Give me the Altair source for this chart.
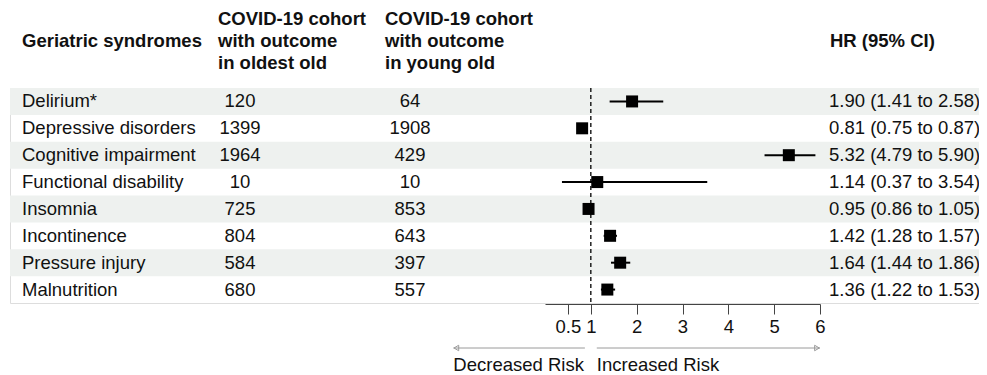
import altair as alt
import pandas as pd

syndromes = ["Delirium*", "Depressive disorders", "Cognitive impairment",
             "Functional disability", "Insomnia", "Incontinence",
             "Pressure injury", "Malnutrition"]
oldest_old = [120, 1399, 1964, 10, 725, 804, 584, 680]
young_old = [64, 1908, 429, 10, 853, 643, 397, 557]
hr = [1.90, 0.81, 5.32, 1.14, 0.95, 1.42, 1.64, 1.36]
ci_low = [1.41, 0.75, 4.79, 0.37, 0.86, 1.28, 1.44, 1.22]
ci_high = [2.58, 0.87, 5.90, 3.54, 1.05, 1.57, 1.86, 1.53]
shaded = [True, False, True, False, True, False, True, False]
tick_values = [0.5, 1, 2, 3, 4, 5, 6]

header_col1 = "Geriatric syndromes"
header_col2 = ["COVID-19 cohort", "with outcome", "in oldest old"]
header_col3 = ["COVID-19 cohort", "with outcome", "in young old"]
header_hr = "HR (95% CI)"
arrow_labels = ["Decreased Risk", "Increased Risk"]
arrow_left = [0.87, -2.0]   # from, to (HR scale)
arrow_right = [1.13, 6.0]

df = pd.DataFrame({
    "syndrome": syndromes,
    "oldest": oldest_old,
    "young": young_old,
    "hr": hr,
    "lo": ci_low,
    "hi": ci_high,
    "shaded": shaded,
})
df["hr_text"] = [f"{h:.2f} ({l:.2f} to {u:.2f})" for h, l, u in zip(hr, ci_low, ci_high)]

W = 969
H = 215
FONT = "Liberation Sans"
FS = 18.5
TXT = "#111111"

yscale = alt.Scale(domain=syndromes, paddingInner=0, paddingOuter=0)
Y = alt.Y("syndrome:N", scale=yscale, axis=None)
xscale = alt.Scale(domain=[0, 6], range=[535, 810], nice=False, zero=False)
xaxis = alt.Axis(values=tick_values, format="~g", title=None, grid=False,
                 domainColor="#444", tickColor="#444", tickSize=10,
                 labelFont=FONT, labelFontSize=FS, labelColor=TXT,
                 labelPadding=3, offset=1, labelFlush=False,
                 labelOverlap=False)


def X(field):
    return alt.X(field, scale=xscale, axis=xaxis, title=None)


base = alt.Chart(df)

bands = base.transform_filter("datum.shaded").mark_rect(color="#eef1ef").encode(
    y=Y, x=alt.value(0), x2=alt.value(W)
)

ref = alt.Chart(pd.DataFrame({"v": [1]})).mark_rule(
    color="black", strokeDash=[4, 3], strokeWidth=1.3
).encode(
    x=X("v:Q"), y=alt.value(0), y2=alt.value(H)
)

ci = base.mark_rule(color="black", strokeWidth=2).encode(
    x=X("lo:Q"), x2="hi:Q", y=Y
)

sq = base.mark_square(color="black", size=144, opacity=1).encode(
    x=X("hr:Q"), y=Y
)


def col_text(field, x, align):
    return base.mark_text(align=align, baseline="middle", font=FONT,
                          fontSize=FS, color=TXT).encode(
        y=Y, x=alt.value(x), text=f"{field}:N")


t1 = col_text("syndrome", 12, "left")
t2 = col_text("oldest", 230, "center")
t3 = col_text("young", 400, "center")
t4 = col_text("hr_text", 819, "left")

one = pd.DataFrame({"_": [0]})


def hdr(text, x, y):
    return alt.Chart(one).mark_text(align="left", baseline="middle", font=FONT,
                                    fontSize=FS, fontWeight="bold", color=TXT).encode(
        x=alt.value(x), y=alt.value(y), text=alt.value(text))


line_y = [-69, -47, -25]
headers = [hdr(header_col1, 12, line_y[1]), hdr(header_hr, 820, line_y[1])]
for i, s in enumerate(header_col2):
    headers.append(hdr(s, 208, line_y[i]))
for i, s in enumerate(header_col3):
    headers.append(hdr(s, 375, line_y[i]))

arr_df = pd.DataFrame({
    "x": [arrow_left[0], arrow_right[0]],
    "x2": [arrow_left[1], arrow_right[1]],
    "label": arrow_labels,
})
ARROW_Y = 260
GRAY = "#9a9a9a"
arrows = alt.Chart(arr_df).mark_rule(color=GRAY, strokeWidth=1).encode(
    x=X("x:Q"), x2="x2:Q", y=alt.value(ARROW_Y)
)
heads_l = alt.Chart(arr_df.iloc[[0]]).mark_point(
    shape="triangle-left", filled=False, size=30, color=GRAY, strokeWidth=1,
    xOffset=3, opacity=1
).encode(x=X("x2:Q"), y=alt.value(ARROW_Y))
heads_r = alt.Chart(arr_df.iloc[[1]]).mark_point(
    shape="triangle-right", filled=False, size=30, color=GRAY, strokeWidth=1,
    xOffset=-3, opacity=1
).encode(x=X("x2:Q"), y=alt.value(ARROW_Y))
arrow_text = alt.Chart(arr_df).transform_calculate(
    xt="min(datum.x, datum.x2)"
).mark_text(
    align="left", baseline="middle", font=FONT, fontSize=FS, color=TXT
).encode(
    x=X("xt:Q"), y=alt.value(277), text="label:N"
)

chart = alt.layer(
    bands, ref, ci, sq, t1, t2, t3, t4, *headers, arrows, heads_l, heads_r, arrow_text
).properties(
    width=W, height=H,
    autosize=alt.AutoSizeParams(type="none"),
    padding={"left": 2, "top": 80, "right": 0, "bottom": 72},
).configure_view(stroke=None).configure(background="white")

chart.save("out.html", embed_options={"renderer": "svg", "actions": False})
